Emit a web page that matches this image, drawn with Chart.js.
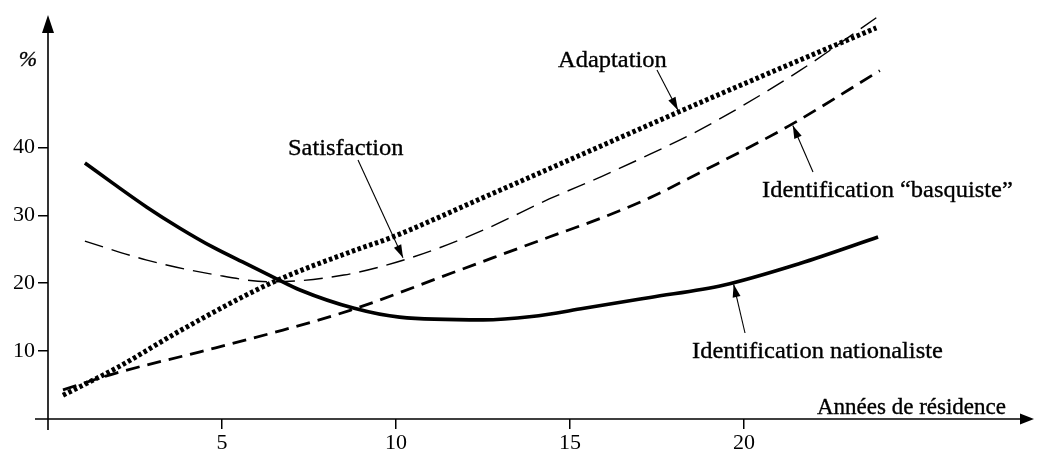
<!DOCTYPE html>
<html><head><meta charset="utf-8">
<script src="https://cdn.jsdelivr.net/npm/chart.js@4/dist/chart.umd.min.js"></script>
<style>html,body{margin:0;padding:0;background:#fff}canvas{display:block}</style>
</head><body>
<canvas id="c" width="1039" height="453"></canvas>
<script>
// ---- data (years of residence, %) ----
const xTicks = [5, 10, 15, 20];
const yTicks = [10, 20, 30, 40];

const nationalisteX = [1.06, 1.87, 2.84, 3.79, 4.74, 5.72, 6.47, 7.24, 8.8, 10.1, 12.5, 13.9, 15.4, 17.3, 19.4, 21.6, 23.85];
const nationalisteY = [37.7, 34.7, 31.2, 28.1, 25.3, 22.8, 20.9, 19.0, 16.3, 15.0, 14.6, 15.1, 16.3, 17.9, 19.7, 22.9, 26.8];

const adaptationX = [0.43, 2.0, 3.9, 6.4, 8.9, 9.8, 12.5, 15.4, 18.2, 20.7, 23.8];
const adaptationY = [3.5, 7.6, 13.3, 20.0, 25.0, 26.6, 32.6, 39.1, 45.4, 50.9, 57.6];

const satisfactionX = [1.06, 2.84, 4.74, 6.4, 8.5, 10.4, 12.5, 14.4, 15.9, 17.3, 18.7, 21.6, 23.8];
const satisfactionY = [26.2, 23.4, 21.3, 20.2, 21.2, 23.7, 27.8, 32.4, 35.7, 39.0, 42.5, 51.3, 59.1];

const basquisteX = [0.43, 1.98, 4.37, 6.75, 8.68, 11.6, 14.4, 15.9, 17.3, 18.7, 21.3, 23.9];
const basquisteY = [4.3, 6.8, 9.9, 13.1, 16.0, 21.5, 26.8, 29.6, 32.6, 36.2, 43.2, 51.3];

const seriesNames = ['Identification nationaliste', 'Adaptation', 'Satisfaction', 'Identification \u201cbasquiste\u201d'];
const xTitle = 'Ann\u00e9es de r\u00e9sidence';
const yTitle = '%';

function pts(xs, ys) { return xs.map((x, i) => ({ x: x, y: ys[i] })); }

const FONT = "'Liberation Serif', 'DejaVu Serif', serif";

// annotations: label position (px) and arrow from label to a point on a series
const notes = [
  { text: seriesNames[1], tx: 558, ty: 67, ax: 657, ay: 70, series: 1, px: 18.1 },
  { text: seriesNames[2], tx: 288, ty: 155, ax: 358, ay: 160, series: 2, px: 10.2 },
  { text: seriesNames[3], tx: 762, ty: 197, ax: 813, ay: 172, series: 3, px: 21.4 },
  { text: seriesNames[0], tx: 692, ty: 358, ax: 745, ay: 333, series: 0, px: 19.7 }
];

function interpY(xs, ys, x) {
  for (let i = 0; i < xs.length - 1; i++) {
    if (x >= xs[i] && x <= xs[i + 1]) {
      const t = (x - xs[i]) / (xs[i + 1] - xs[i]);
      return ys[i] + t * (ys[i + 1] - ys[i]);
    }
  }
  return ys[ys.length - 1];
}
const allX = [nationalisteX, adaptationX, satisfactionX, basquisteX];
const allY = [nationalisteY, adaptationY, satisfactionY, basquisteY];

function arrowHead(ctx, x1, y1, x2, y2, len, half) {
  const a = Math.atan2(y2 - y1, x2 - x1);
  ctx.beginPath();
  ctx.moveTo(x2, y2);
  ctx.lineTo(x2 - len * Math.cos(a) + half * Math.sin(a), y2 - len * Math.sin(a) - half * Math.cos(a));
  ctx.lineTo(x2 - len * Math.cos(a) - half * Math.sin(a), y2 - len * Math.sin(a) + half * Math.cos(a));
  ctx.closePath();
  ctx.fill();
}

function boldText(ctx, t, x, y) {
  ctx.fillText(t, x, y);
  ctx.lineWidth = 0.35;
  ctx.strokeText(t, x, y);
}

const decor = {
  id: 'decor',
  afterDraw(chart) {
    const ctx = chart.ctx;
    const xs = chart.scales.x, ys = chart.scales.y;
    const x0 = xs.getPixelForValue(0), yb = ys.getPixelForValue(0);
    const xr = xs.right, yt = ys.top;
    ctx.save();
    ctx.strokeStyle = '#000'; ctx.fillStyle = '#000'; ctx.lineWidth = 1.6;
    // axis lines with extensions
    ctx.beginPath();
    ctx.moveTo(x0 - 13, yb); ctx.lineTo(xr - 8, yb);
    ctx.moveTo(x0, yb + 11); ctx.lineTo(x0, yt + 10);
    ctx.stroke();
    // axis arrow heads
    arrowHead(ctx, x0, yb, xr, yb, 14, 5.5);
    arrowHead(ctx, x0, yb, x0, yt - 2, 18, 6);
    // axis titles
    ctx.font = 'italic 22px ' + FONT;
    ctx.textAlign = 'center'; ctx.textBaseline = 'alphabetic';
    boldText(ctx, yTitle, 28, 66);
    ctx.font = '23px ' + FONT;
    ctx.textAlign = 'right';
    boldText(ctx, xTitle, 1006, 414);
    // annotations
    ctx.textAlign = 'left';
    notes.forEach(n => {
      ctx.save();
      ctx.translate(n.tx, n.ty);
      ctx.scale(1.02, 1);
      ctx.font = '24px ' + FONT;
      boldText(ctx, n.text, 0, 0);
      ctx.restore();
      const ex = xs.getPixelForValue(n.px);
      const cy = ys.getPixelForValue(interpY(allX[n.series], allY[n.series], n.px));
      const ey = cy + (n.ay < cy ? -2 : 2);
      ctx.lineWidth = 1.1;
      ctx.beginPath();
      ctx.moveTo(n.ax, n.ay); ctx.lineTo(ex, ey);
      ctx.stroke();
      arrowHead(ctx, n.ax, n.ay, ex, ey, 13, 4);
    });
    ctx.restore();
  }
};

new Chart(document.getElementById('c'), {
  type: 'line',
  data: {
    datasets: [
      { label: seriesNames[0], data: pts(nationalisteX, nationalisteY), borderColor: '#000', borderWidth: 3.6, pointRadius: 0, fill: false, cubicInterpolationMode: 'monotone' },
      { label: seriesNames[1], data: pts(adaptationX, adaptationY), borderColor: '#000', borderWidth: 5, borderDash: [3.5, 2.6], borderCapStyle: 'butt', pointRadius: 0, fill: false, cubicInterpolationMode: 'monotone' },
      { label: seriesNames[2], data: pts(satisfactionX, satisfactionY), borderColor: '#000', borderWidth: 1.4, borderDash: [19, 9], pointRadius: 0, fill: false, cubicInterpolationMode: 'monotone' },
      { label: seriesNames[3], data: pts(basquisteX, basquisteY), borderColor: '#000', borderWidth: 2.8, borderDash: [14, 8], pointRadius: 0, fill: false, cubicInterpolationMode: 'monotone' }
    ]
  },
  options: {
    responsive: false,
    animation: false,
    clip: false,
    layout: { padding: { top: 17, right: 5, left: 0, bottom: 0 } },
    plugins: { legend: { display: false }, tooltip: { enabled: false } },
    scales: {
      x: {
        type: 'linear', min: 0, max: 28.33,
        afterBuildTicks(s) { s.ticks = xTicks.map(v => ({ value: v })); },
        afterFit(s) { s.height = 34; },
        grid: { display: true, drawOnChartArea: false, drawTicks: true, tickLength: 10, color: '#000', lineWidth: 1.5 },
        border: { display: false },
        ticks: { color: '#000', font: { family: FONT, size: 22 }, padding: 1, maxRotation: 0 }
      },
      y: {
        type: 'linear', min: 0, max: 59.2,
        afterBuildTicks(s) { s.ticks = yTicks.map(v => ({ value: v })); },
        afterFit(s) { s.width = 48; },
        grid: { display: true, drawOnChartArea: false, drawTicks: true, tickLength: 10, color: '#000', lineWidth: 1.5 },
        border: { display: false },
        ticks: { color: '#000', font: { family: FONT, size: 22 }, padding: 3 }
      }
    }
  },
  plugins: [decor]
});
</script>
</body></html>
